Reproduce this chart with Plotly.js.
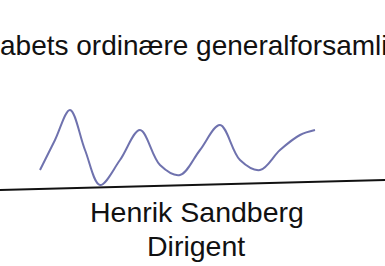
<!DOCTYPE html>
<html><head><meta charset="utf-8">
<script src="https://cdn.plot.ly/plotly-3.0.1.min.js"></script>
<style>html,body{margin:0;padding:0;background:#fff;}#c{width:385px;height:266px;}</style>
</head><body><div id="c"></div>
<script>
// Printed text lines
const headerText = "abets ordinære generalforsamli";
const nameText = "Henrik Sandberg";
const roleText = "Dirigent";
// Signature rule (slightly tilted line)
const ruleX = [0, 385];
const ruleY = [190, 180];
// Generic placeholder stroke standing in for the handwritten signature (not a trace of it)
const sigX = [40, 55, 70, 85, 100, 120, 140, 160, 180, 200, 220, 240, 260, 280, 300, 315];
const sigY = [170, 140, 110, 150, 185, 160, 130, 165, 175, 150, 125, 160, 170, 150, 135, 130];

const traces = [
  {x: ruleX, y: ruleY, mode: 'lines', line: {color: '#111', width: 1.8}, hoverinfo: 'skip'},
  {x: sigX, y: sigY, mode: 'lines', line: {color: '#4b4f9a', width: 2, shape: 'spline'}, opacity: 0.8, hoverinfo: 'skip'}
];

const font = {family: 'Liberation Sans, Arial, sans-serif', color: '#111'};
const layout = {
  width: 385, height: 266,
  margin: {l: 0, r: 0, t: 0, b: 0},
  paper_bgcolor: '#fff', plot_bgcolor: '#fff',
  showlegend: false,
  xaxis: {range: [0, 385], visible: false, fixedrange: true},
  yaxis: {range: [266, 0], visible: false, fixedrange: true},
  annotations: [
    {x: 0, xshift: -2, y: 45, xref: 'x', yref: 'y', text: headerText, showarrow: false, xanchor: 'left', yanchor: 'middle', font: Object.assign({size: 28}, font)},
    {x: 197, y: 212, xref: 'x', yref: 'y', text: nameText, showarrow: false, xanchor: 'center', yanchor: 'middle', font: Object.assign({size: 28.5}, font)},
    {x: 196, y: 246, xref: 'x', yref: 'y', text: roleText, showarrow: false, xanchor: 'center', yanchor: 'middle', font: Object.assign({size: 28.5}, font)}
  ]
};
Plotly.newPlot('c', traces, layout, {staticPlot: true, displayModeBar: false});
</script></body></html>
